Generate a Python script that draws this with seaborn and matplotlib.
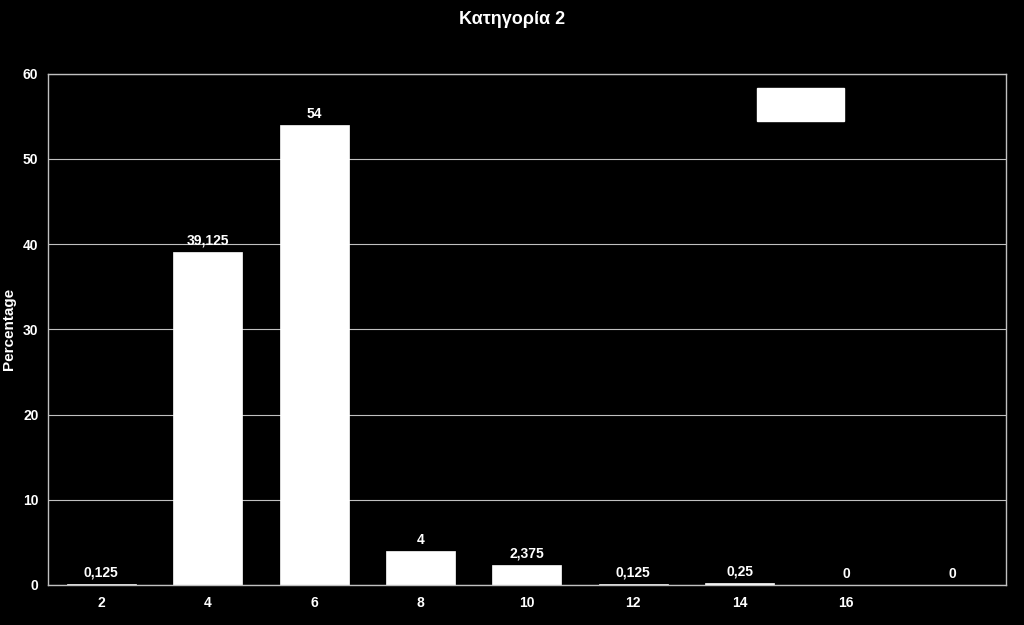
import matplotlib
matplotlib.use("Agg")
import matplotlib.pyplot as plt
from matplotlib.patches import Patch
import seaborn as sns
import pandas as pd
import numpy as np

# data
categories = ["2", "4", "6", "8", "10", "12", "14", "16", ""]
values = [0.125, 39.125, 54, 4, 2.375, 0.125, 0.25, 0, 0]
value_labels = ["0,125", "39,125", "54", "4", "2,375", "0,125", "0,25", "0", "0"]
y_ticks = [0, 10, 20, 30, 40, 50, 60]

sns.set_style("dark")
plt.rcParams['font.family'] = ['Liberation Sans', 'DejaVu Sans']
plt.rcParams['font.weight'] = 'bold'

df = pd.DataFrame({"pos": np.arange(len(categories)), "value": values})

fig = plt.figure(figsize=(10.24, 6.25), dpi=100, facecolor='black')
ax = fig.add_axes([0.047, 0.064, 0.935, 0.818])
ax.set_facecolor('black')

sns.barplot(data=df, x="pos", y="value", color='white', saturation=1,
            width=0.65, native_scale=True, ax=ax, edgecolor='white', linewidth=0.5)

ax.set_xlim(-0.5, len(categories) - 0.5)
ax.set_ylim(0, 60)
ax.set_yticks(y_ticks)
ax.set_yticklabels([str(t) for t in y_ticks], color='white', fontsize=10, fontweight='bold')
ax.set_xticks(np.arange(len(categories)))
ax.set_xticklabels(categories, color='white', fontsize=10, fontweight='bold')
ax.set_xticks(np.arange(len(categories) + 1) - 0.5, minor=True)
ax.tick_params(axis='x', which='major', length=0, pad=8)
ax.tick_params(axis='x', which='minor', length=4, color='#c0c0c0', direction='inout')
ax.tick_params(axis='y', length=4, color='#c0c0c0', direction='out', pad=3)

ax.yaxis.grid(True, color='#c0c0c0', linewidth=0.8)
ax.xaxis.grid(False)
for side in ['left', 'bottom', 'top', 'right']:
    ax.spines[side].set_visible(True)
    ax.spines[side].set_color('#c0c0c0')
    ax.spines[side].set_linewidth(1)

# value labels above bars
for i, (v, lab) in enumerate(zip(values, value_labels)):
    ax.text(i, v + 0.5, lab, ha='center', va='bottom', color='white',
            fontsize=10, fontweight='bold')

ax.set_xlabel('')
ax.set_ylabel('Percentage', color='white', fontsize=11, fontweight='bold', labelpad=5)
fig.suptitle('Κατηγορία 2', color='white', fontsize=13, fontweight='bold', y=0.982)

# empty legend box
ax.legend(handles=[Patch(facecolor='white', edgecolor='white')], labels=[''],
          loc='upper left', bbox_to_anchor=(0.740, 0.973), frameon=False,
          handlelength=6.3, handleheight=3.3, handletextpad=0, borderpad=0,
          borderaxespad=0, fontsize=10)

fig.savefig('out.png', dpi=100, facecolor='black')
